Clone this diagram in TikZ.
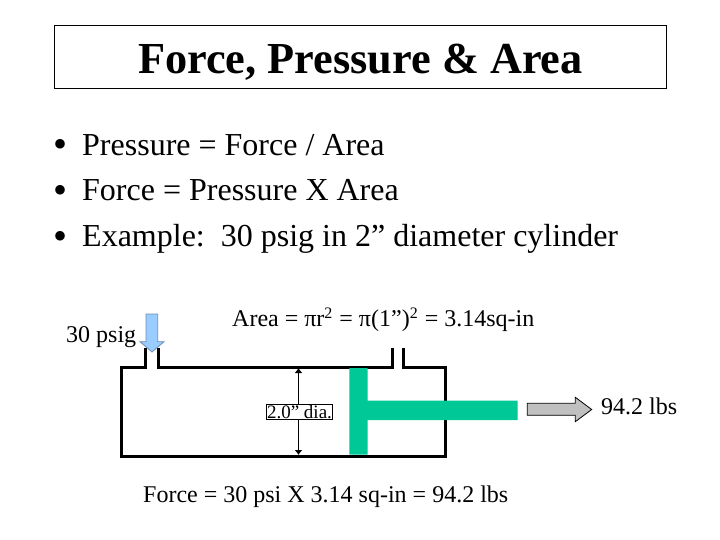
\documentclass[tikz,border=0pt]{standalone}
\usepackage{fontspec}
\setmainfont{Liberation Serif}
\usetikzlibrary{arrows.meta}
\definecolor{pistongreen}{HTML}{00C896}
\definecolor{inblue}{HTML}{99CCFF}
\definecolor{inedge}{HTML}{6F8FB0}
\definecolor{outgrey}{HTML}{C0C0C0}
\newcommand{\supr}[1]{\raisebox{7.5pt}{\fontsize{16}{16}\selectfont #1}\hspace{1pt}}
\tikzset{
  txt/.style={inner sep=0pt,anchor=base west,font=\fontsize{#1}{#1}\selectfont},
  wall/.style={draw=black,line width=3pt,line join=miter},
  block/.style={draw=black,line width=0.8pt},
}
\begin{document}
\begin{tikzpicture}[x=1pt,y=-1pt]
\useasboundingbox (0,0) rectangle (720,540);
\fill[white] (0,0) rectangle (720,540);
\draw[line width=0.8pt] (54.5,25.5) rectangle (666.5,88.5);
\node[txt=44.3] (title) at (138,74) {\textbf{Force, Pressure \& Area}};
\node[txt=40] (b1) at (53.5,158) {•};
\node[txt=32] (l1) at (82,156) {Pressure = Force / Area};
\node[txt=40] (b2) at (53.5,203.5) {•};
\node[txt=32] (l2) at (82,201) {Force = Pressure X Area};
\node[txt=40] (b3) at (53.5,249.5) {•};
\node[txt=32] (l3) at (82,247) {Example:\hspace{16pt}30 psig in 2” diameter cylinder};
\node[txt=24] (psig) at (66,342) {30 psig};
\node[txt=24] (area) at (232,326) {Area = πr\supr{2} = π(1”)\supr{2} = 3.14sq-in};
\node[txt=24] (force) at (143,502) {Force = 30 psi X 3.14 sq-in = 94.2 lbs};
\node[txt=24] (lbs) at (601,414) {94.2 lbs};
% cylinder
\draw[wall] (145,348) -- (145,367) -- (121,367) -- (121,456) -- (445.5,456) -- (445.5,367) -- (403,367) -- (403,348);
\draw[wall] (158,348) -- (158,367) -- (392,367) -- (392,348);
% piston
\fill[pistongreen] (349.3,368) -- (367.7,368) -- (367.7,400.7) -- (517.5,400.7) -- (517.5,420) -- (367.7,420) -- (367.7,454.5) -- (349.3,454.5) -- cycle;
% arrows
\draw[draw=inedge,line width=0.8pt,fill=inblue] (146,314) -- (157.7,314) -- (157.7,341.7) -- (164,341.7) -- (152,352) -- (140,341.7) -- (146,341.7) -- cycle;
\draw[block,fill=outgrey] (527.3,403.3) -- (575.3,403.3) -- (575.3,397.3) -- (591.7,409.5) -- (575.3,421.7) -- (575.3,415.3) -- (527.3,415.3) -- cycle;
% dimension
\coordinate (dimtop) at (298.5,368);
\coordinate (dimbot) at (298.5,455);
\draw[line width=1.5pt,{Latex[length=5pt,width=8pt]}-{Latex[length=5pt,width=8pt]}] (dimtop) -- (dimbot);
\node[draw=black,fill=white,line width=0.8pt,inner sep=0.5pt,font=\fontsize{19}{19}\selectfont] (dia) at (299.5,411.7) {2.0” dia.};
\end{tikzpicture}
\end{document}
